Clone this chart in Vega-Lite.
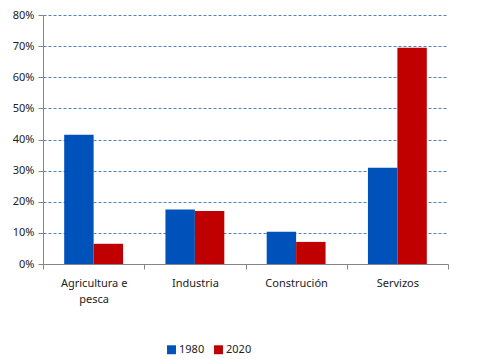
{
  "$schema": "https://vega.github.io/schema/vega-lite/v6.json",
  "width": 405,
  "height": 249,
  "autosize": {"type": "none"},
  "padding": {"left": 43, "top": 15, "right": 29, "bottom": 95},
  "background": "white",
  "data": {
    "values": [
      {"sector": "Agricultura e pesca", "year": "1980", "share": 0.415},
      {"sector": "Agricultura e pesca", "year": "2020", "share": 0.065},
      {"sector": "Industria", "year": "1980", "share": 0.175},
      {"sector": "Industria", "year": "2020", "share": 0.170},
      {"sector": "Construción", "year": "1980", "share": 0.104},
      {"sector": "Construción", "year": "2020", "share": 0.071},
      {"sector": "Servizos", "year": "1980", "share": 0.309},
      {"sector": "Servizos", "year": "2020", "share": 0.695}
    ]
  },
  "config": {
    "view": {"stroke": null},
    "font": "Noto Sans",
    "axis": {"labelFont": "Noto Sans", "labelFontSize": 11, "labelColor": "#222222"},
    "legend": {"labelFont": "Noto Sans", "labelFontSize": 11, "labelColor": "#222222"}
  },
  "mark": {"type": "bar"},
  "encoding": {
    "x": {
      "field": "sector",
      "type": "nominal",
      "sort": null,
      "scale": {"paddingInner": 0, "paddingOuter": 0},
      "axis": {
        "title": null,
        "labelAngle": 0,
        "domainColor": "#868686",
        "tickColor": "#868686",
        "tickBand": "extent",
        "tickSize": 5,
        "labelPadding": 8,
        "labelLineHeight": 16,
        "labelExpr": "datum.label == 'Agricultura e pesca' ? ['Agricultura e', 'pesca'] : datum.label"
      }
    },
    "xOffset": {
      "field": "year",
      "type": "nominal",
      "scale": {"paddingInner": 0, "paddingOuter": 0.72}
    },
    "y": {
      "field": "share",
      "type": "quantitative",
      "scale": {"domain": [0, 0.8], "nice": false},
      "axis": {
        "title": null,
        "format": ".0%",
        "values": [0, 0.1, 0.2, 0.3, 0.4, 0.5, 0.6, 0.7, 0.8],
        "domainColor": "#868686",
        "tickColor": "#868686",
        "tickSize": 5,
        "labelPadding": 4,
        "gridColor": "#4F81BD",
        "gridDash": [3, 2],
        "gridWidth": 1
      }
    },
    "color": {
      "field": "year",
      "type": "nominal",
      "scale": {"domain": ["1980", "2020"], "range": ["#0052BB", "#C00000"]},
      "legend": {
        "title": null,
        "orient": "none",
        "direction": "horizontal",
        "legendX": 123,
        "legendY": 329,
        "symbolType": "square",
        "symbolSize": 80,
        "symbolStrokeWidth": 0,
        "labelOffset": 2,
        "columnPadding": 8
      }
    }
  }
}
